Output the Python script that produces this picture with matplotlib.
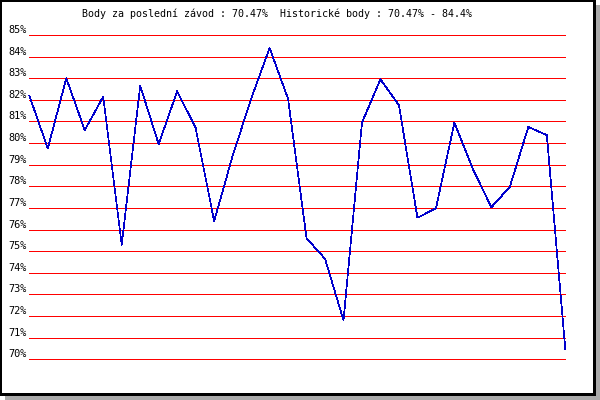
import matplotlib
matplotlib.use("Agg")
import matplotlib.pyplot as plt
from matplotlib.patches import Rectangle

title = "Body za poslední závod : 70.47%  Historické body : 70.47% - 84.4%"
values = [82.2, 79.75, 83.0, 80.6, 82.15, 75.3, 82.65, 79.95, 82.4, 80.7,
          76.4, 79.4, 82.05, 84.4, 82.05, 75.6, 74.65, 71.8, 80.95, 82.95,
          81.75, 76.55, 76.98, 80.95, 78.8, 77.03, 77.98, 80.75, 80.37, 70.47]
y_ticks = list(range(70, 86))
y_labels = [f"{v}%" for v in y_ticks]

W, H = 600, 400
fig = plt.figure(figsize=(6, 4), dpi=100)
fig.patch.set_facecolor("white")

def px_rect(x, y, w, h, color, z):
    fig.add_artist(Rectangle((x / W, 1 - (y + h) / H), w / W, h / H,
                             transform=fig.transFigure, facecolor=color,
                             edgecolor="none", zorder=z))

# shadow
px_rect(596, 5, 4, 395, "#aaaaaa", -10)
px_rect(5, 396, 595, 4, "#aaaaaa", -10)
# black frame
px_rect(0, 0, 596, 396, "black", -9)
px_rect(2.3, 2.3, 591, 391, "white", -8)

left, right = 29.3, 565.3
top, bottom = 35.0, 359.3
ax = fig.add_axes([left / W, 1 - bottom / H, (right - left) / W, (bottom - top) / H])
ax.set_facecolor("none")
ax.set_xlim(0, len(values) - 1)
ax.set_ylim(70, 85)
for s in ax.spines.values():
    s.set_visible(False)
ax.set_xticks([])
ax.set_yticks([])

font = "DejaVu Sans Mono"
fs = 7.4
for v, lab in zip(y_ticks, y_labels):
    ax.axhline(v, color="#ff0000", lw=0.72, antialiased=False, clip_on=False, zorder=1)
    ax.annotate(lab, xy=(0, v), xycoords=("axes fraction", "data"),
                xytext=(-2.3, 5.0), textcoords="offset pixels",
                ha="right", va="center", fontsize=fs, family=font, color="black")

ax.plot(range(len(values)), values, color="#0000cc", lw=0.5, antialiased=False,
        clip_on=False, zorder=3)

fig.text(277 / W, 1 - 13.5 / H, title, ha="center", va="center",
         fontsize=7.2, family=font, color="black")

fig.savefig("out.png", dpi=100, facecolor="white")
